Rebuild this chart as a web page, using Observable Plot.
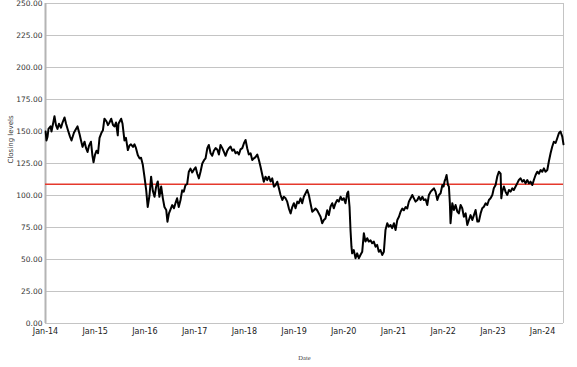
<!DOCTYPE html>
<html>
<head>
<meta charset="utf-8">
<script src="https://cdn.jsdelivr.net/npm/d3@7"></script>
<script src="https://cdn.jsdelivr.net/npm/@observablehq/plot@0.6"></script>
<style>
  html, body { margin: 0; padding: 0; background: #fff; }
  #chart svg { display: block; }
</style>
</head>
<body>
<div id="chart"></div>
<script>
// ---- Data ----
const dates = [
  "2014-01-02","2014-01-08","2014-01-16","2014-01-23","2014-02-07","2014-02-14","2014-03-01","2014-03-08","2014-03-19","2014-03-30",
  "2014-04-10","2014-04-25","2014-05-06","2014-05-21","2014-06-01","2014-06-15","2014-06-30","2014-07-11","2014-07-29","2014-08-13",
  "2014-08-24","2014-09-08","2014-09-19","2014-09-30","2014-10-15","2014-10-26","2014-11-06","2014-11-17","2014-12-01","2014-12-12",
  "2014-12-20","2014-12-31",
  "2015-01-11","2015-01-22","2015-02-02","2015-02-16","2015-02-27","2015-03-10","2015-03-25","2015-04-05","2015-04-16","2015-04-29",
  "2015-05-12","2015-05-23","2015-06-03","2015-06-16","2015-06-21","2015-07-11","2015-07-21","2015-08-04","2015-08-15","2015-08-29",
  "2015-09-10","2015-09-21","2015-10-06","2015-10-17","2015-10-28","2015-11-10","2015-11-23","2015-12-04","2015-12-17","2015-12-29",
  "2016-01-11","2016-01-22","2016-02-04","2016-02-16","2016-02-28","2016-03-12","2016-03-24","2016-04-05","2016-04-17","2016-04-30",
  "2016-05-12","2016-05-24","2016-06-06","2016-06-15","2016-06-26","2016-07-07","2016-07-20","2016-08-02","2016-08-13","2016-08-25",
  "2016-09-06","2016-09-19","2016-10-01","2016-10-13","2016-10-25","2016-11-07","2016-11-19","2016-12-01","2016-12-14","2016-12-25",
  "2017-01-08","2017-01-20","2017-02-01","2017-02-13","2017-02-26","2017-03-11","2017-03-22","2017-04-04","2017-04-15","2017-04-28",
  "2017-05-10","2017-05-22","2017-06-04","2017-06-16","2017-06-28","2017-07-10","2017-07-23","2017-08-04","2017-08-16","2017-08-29",
  "2017-09-09","2017-09-22","2017-10-04","2017-10-16","2017-10-29","2017-11-10","2017-11-22","2017-12-04","2017-12-17","2017-12-29",
  "2018-01-10","2018-01-22","2018-02-03","2018-02-16","2018-02-28","2018-03-12","2018-03-24","2018-04-06","2018-04-18","2018-04-30",
  "2018-05-13","2018-05-24","2018-06-06","2018-06-18","2018-06-30","2018-07-13","2018-07-25","2018-08-06","2018-08-18","2018-08-31",
  "2018-09-12","2018-09-24","2018-10-07","2018-10-18","2018-10-31","2018-11-12","2018-11-24","2018-12-07","2018-12-19","2018-12-31",
  "2019-01-12","2019-01-25","2019-02-05","2019-02-18","2019-03-02","2019-03-14","2019-03-27","2019-04-08","2019-04-20","2019-05-02",
  "2019-05-15","2019-05-27","2019-06-08","2019-06-20","2019-07-02","2019-07-15","2019-07-27","2019-08-08","2019-08-20","2019-09-02",
  "2019-09-14","2019-09-26","2019-10-09","2019-10-20","2019-11-02","2019-11-14","2019-11-26","2019-12-09","2019-12-21",
  "2020-01-02","2020-01-14","2020-01-27","2020-02-03","2020-02-13","2020-02-20","2020-02-27","2020-03-03","2020-03-15","2020-03-28",
  "2020-04-09","2020-04-21","2020-05-03","2020-05-16","2020-05-28","2020-06-09","2020-06-22","2020-07-03","2020-07-16","2020-07-28",
  "2020-08-09","2020-08-22","2020-09-03","2020-09-15","2020-09-27","2020-10-10","2020-10-22","2020-11-03","2020-11-16","2020-11-27",
  "2020-12-10","2020-12-22",
  "2021-01-04","2021-01-16","2021-01-29","2021-02-10","2021-02-22","2021-03-07","2021-03-18","2021-03-31","2021-04-12","2021-04-24",
  "2021-05-07","2021-05-19","2021-05-31","2021-06-12","2021-06-25","2021-07-07","2021-07-19","2021-08-01","2021-08-12","2021-08-25",
  "2021-09-06","2021-09-18","2021-10-01","2021-10-13","2021-10-25","2021-11-06","2021-11-19","2021-12-01","2021-12-13","2021-12-26",
  "2022-01-04","2022-01-11","2022-01-19","2022-01-26","2022-02-05","2022-02-12","2022-02-19","2022-02-24","2022-03-09","2022-03-21",
  "2022-04-02","2022-04-15","2022-04-26","2022-05-09","2022-05-21","2022-06-02","2022-06-15","2022-06-27","2022-07-09","2022-07-21",
  "2022-08-03","2022-08-15","2022-08-27","2022-09-09","2022-09-20","2022-10-03","2022-10-15","2022-10-27","2022-11-09","2022-11-21",
  "2022-12-03","2022-12-15","2022-12-28",
  "2023-01-08","2023-01-21","2023-02-02","2023-02-14","2023-02-27","2023-03-04","2023-03-11","2023-03-23","2023-04-04","2023-04-17",
  "2023-04-29","2023-05-11","2023-05-24","2023-06-04","2023-06-17","2023-06-29","2023-07-11","2023-07-24","2023-08-05","2023-08-17",
  "2023-08-29","2023-09-11","2023-09-23","2023-10-05","2023-10-18","2023-10-29","2023-11-11","2023-11-23","2023-12-05","2023-12-18",
  "2023-12-30",
  "2024-01-11","2024-01-23","2024-02-05","2024-02-16","2024-02-29","2024-03-12","2024-03-24","2024-04-06","2024-04-18","2024-04-30",
  "2024-05-12","2024-05-25","2024-06-03"
];
const closes = [
  150,143,146,152,154,150,158,162,155,152,
  156,153,157,161,156,151,146,143,149,152,
  154,148,143,138,142,137,134,139,142,131,
  126,132,
  135,133,145,149,151,160,158,155,157,160,
  155,154,157,147,156,160,156,143,145,135.5,
  139,140,138,140,137,131.6,129,129.5,124,114.7,
  104,91,100,114.7,104,99,107,111,99,107,
  98,91,88.7,79.5,86,89,92.5,90,94,97.8,
  91,96.5,104,103,108,109,118.6,121,118,120,
  122,117,113.4,118.6,125,127.6,129,136.9,139.5,133,
  131,135,137,136,132,139.5,137,134,131,135,
  137,138.2,135,136,133,134,132,136,137,140.8,
  143.4,137,132,133,127.7,129,130,132,127.7,122.5,
  116,110.8,114.7,112,114.7,111,113.4,106.9,108,110.8,
  105.6,100.4,96.5,99,97.8,95.2,90,86,91,94,
  90,95.2,94,97.8,94,99,101.7,104.3,100.4,94,
  87.3,88.5,89.8,88.5,86,83.4,78.3,80.8,82,88.5,
  84.7,91.2,94,90,94,96.5,95.2,99,96.5,
  97.8,93.9,101.7,103,91,73,60,54.8,57.4,51,
  54.8,51,53.5,56,70.5,64,66.6,64,65,62.7,
  64,60,61.4,56,57.4,53.5,56,73,78.3,75.7,
  77,74.5,
  78.3,73,80.9,83.4,87.3,89.8,88.5,91,89.8,95.2,
  97.8,100.4,97.8,95.2,96.5,99,96.5,99,96.5,97,
  92.6,100.4,103,104.3,105.6,103,96.5,100.4,101.7,108.2,
  107,111,113.4,116,108.2,107,94,78.3,94,88.7,
  92.6,87.4,86,92.6,90,83.4,86,77,80.9,84.7,
  80.9,84.7,88.7,79.6,79.6,86,90,91.2,93.9,92.6,
  96.5,97.8,100.4,
  105.6,108.2,114.7,118.6,117,97.8,103,107,103,100.4,
  104.3,103,105.6,104.3,107,109.5,112.1,113.4,110.8,112.1,
  109.5,112.1,109.5,110.8,108.2,112.1,116,118.6,117,119.9,
  118.6,
  121.2,118.6,119.9,126.4,133,138.1,142,141,144.7,148.6,
  150,146,140
];
const referenceLevel = 108.8;          // red horizontal line
const yTicks = [0, 25, 50, 75, 100, 125, 150, 175, 200, 225, 250];
const xTickDates = ["2014-01-01","2015-01-01","2016-01-01","2017-01-01","2018-01-01","2019-01-01",
                    "2020-01-01","2021-01-01","2022-01-01","2023-01-01","2024-01-01"];
const xTickLabels = ["Jan-14","Jan-15","Jan-16","Jan-17","Jan-18","Jan-19","Jan-20","Jan-21","Jan-22","Jan-23","Jan-24"];
const xDomain = ["2014-01-01", "2024-06-03"];
const yLabel = "Closing levels";
const xLabel = "Date";

// ---- Build table ----
const parse = d3.utcParse("%Y-%m-%d");
const data = dates.map((d, i) => ({date: parse(d), close: closes[i]}));
const tickDates = xTickDates.map(parse);
const labelFor = new Map(tickDates.map((d, i) => [+d, xTickLabels[i]]));
const domain = xDomain.map(parse);

const chart = Plot.plot({
  width: 577,
  height: 367,
  marginLeft: 45,
  marginRight: 14,
  marginTop: 3,
  marginBottom: 44,
  style: {fontFamily: "'DejaVu Sans', sans-serif", fontSize: "8px", color: "#333", background: "#fff"},
  x: {type: "utc", domain, label: null},
  y: {domain: [0, 250], label: null},
  marks: [
    Plot.gridY(yTicks, {stroke: "#c4c4c4", strokeOpacity: 1, strokeWidth: 1}),
    Plot.ruleX([domain[0]], {stroke: "#b4b4b4", strokeWidth: 2}),
    Plot.ruleX([domain[1]], {stroke: "#c4c4c4", strokeWidth: 1}),
    Plot.axisY(yTicks, {tickSize: 0, tickPadding: 3, tickFormat: d3.format(".2f"), fill: "#333", fontSize: 7.5}),
    Plot.axisX(tickDates, {tickSize: 0, tickPadding: 5, tickFormat: d => labelFor.get(+d), fill: "#222", fontSize: 8}),
    Plot.ruleY([referenceLevel], {stroke: "#e5392c", strokeWidth: 1.6}),
    Plot.lineY(data, {x: "date", y: "close", stroke: "#000", strokeWidth: 2, strokeLinejoin: "round"}),
    Plot.text([yLabel], {frameAnchor: "left", dx: -35, rotate: -90, fontSize: 7, fill: "#333", fontFamily: "'DejaVu Sans', sans-serif"}),
    Plot.text([xLabel], {frameAnchor: "bottom", dy: 36, fontSize: 6.5, fill: "#444", fontFamily: "'Liberation Serif', serif"})
  ]
});
document.getElementById("chart").appendChild(chart);
</script>
</body>
</html>
